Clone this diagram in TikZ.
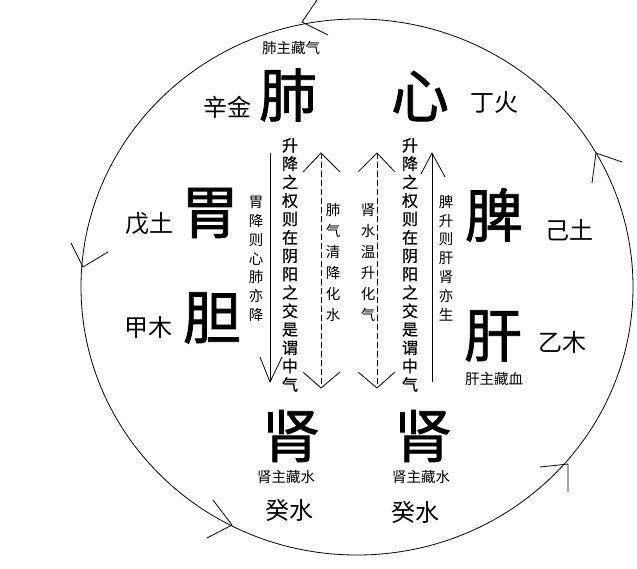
\documentclass[tikz,border=0pt]{standalone}
\usepackage{fontspec}
\newfontfamily\cjk{Noto Sans CJK SC}
\newfontfamily\cjkb[FakeBold=1.3]{Noto Sans CJK SC}
\newfontfamily\cjkm[FakeBold=0.6]{Noto Sans CJK SC}
\begin{document}
\begin{tikzpicture}[x=1pt,y=-1pt,
  line width=0.8pt,
  every node/.style={inner sep=0pt,outer sep=0pt,font=\cjk},
  big/.style={font=\cjkb\fontsize{58}{60}\selectfont},
  mid/.style={font=\cjk\fontsize{24}{26}\selectfont},
  sml/.style={font=\cjk\fontsize{14.5}{16}\selectfont},
  colA/.style={align=center,font=\cjkm\fontsize{16}{18.4}\selectfont},
  colB/.style={align=center,font=\cjk\fontsize{14.5}{18.8}\selectfont},
  colC/.style={align=center,font=\cjk\fontsize{14.5}{21}\selectfont},
  dsh/.style={dash pattern=on 6pt off 3pt}]
\useasboundingbox (0,0) rectangle (637,568);
% big circle
\draw (357,287) ellipse [x radius=276, y radius=268];
% circle arrowheads (open barbs)
\coordinate (t1) at (302,22);
\draw (317,0) -- (t1) -- (328,35);
\coordinate (t2) at (83,267);
\draw (71,243) -- (t2) -- (108,252);
\coordinate (t3) at (232,525);
\draw (213,500) -- (t3) -- (207,538);
\coordinate (t4) at (568,464);
\draw (540,467) -- (t4) -- (568,492);
\coordinate (t5) at (596,153);
\draw (622,162) -- (t5) -- (592,183);
% organs
\node[big] (fei) at (288,95) {肺};
\node[big] (xin) at (420,96) {心};
\node[big] (wei) at (210,213) {胃};
\node[big] (pi) at (494,215) {脾};
\node[big] (dan) at (212,318) {胆};
\node[big] (gan) at (493,336) {肝};
\node[big] (shenL) at (291,436) {肾};
\node[big] (shenR) at (423,436) {肾};
% stems
\node[mid] (xinjin) at (227,107) {辛金};
\node[mid] (dinghuo) at (494,103) {丁火};
\node[mid] (wutu) at (149,224) {戊土};
\node[mid] (jitu) at (569,230) {己土};
\node[mid] (jiamu) at (148,327) {甲木};
\node[mid] (yimu) at (562,342) {乙木};
\node[mid] (guiL) at (289,510) {癸水};
\node[mid] (guiR) at (415,512) {癸水};
% small labels
\node[sml] (feizhu) at (291,48) {肺主藏气};
\node[sml] (ganzhu) at (494,379) {肝主藏血};
\node[sml] (shenzhuL) at (286,477) {肾主藏水};
\node[sml] (shenzhuR) at (421,477) {肾主藏水};
% vertical texts
\node[colB] (weijiang) at (256,259) {胃\\降\\则\\心\\肺\\亦\\降};
\node[colA] (zqL) at (290,265) {升\\降\\之\\权\\则\\在\\阴\\阳\\之\\交\\是\\谓\\中\\气};
\node[colC] (feiqi) at (333,263) {肺\\气\\清\\降\\化\\水};
\node[colC] (shenshui) at (368,263) {肾\\水\\温\\升\\化\\气};
\node[colA] (zqR) at (410,265) {升\\降\\之\\权\\则\\在\\阴\\阳\\之\\交\\是\\谓\\中\\气};
\node[colB] (pisheng) at (446,258) {脾\\升\\则\\肝\\肾\\亦\\生};
% vertical arrows
\coordinate (a1t) at (270,153); \coordinate (a1b) at (270,382);
\draw (a1t) -- (a1b);
\draw (260,357) -- (a1b) -- (282,357);
\coordinate (a2t) at (321,153); \coordinate (a2b) at (321,388);
\draw[dsh] (a2t) -- (a2b);
\draw (303,172) -- (a2t) -- (340,172);
\draw (303,372) -- (a2b) -- (340,372);
\coordinate (a3t) at (377,153); \coordinate (a3b) at (377,388);
\draw[dsh] (a3t) -- (a3b);
\draw (358,172) -- (a3t) -- (395,172);
\draw (358,372) -- (a3b) -- (395,372);
\coordinate (a4t) at (432,153); \coordinate (a4b) at (432,382);
\draw (a4b) -- (a4t);
\draw (421,174) -- (a4t) -- (445,177);
\end{tikzpicture}
\end{document}
